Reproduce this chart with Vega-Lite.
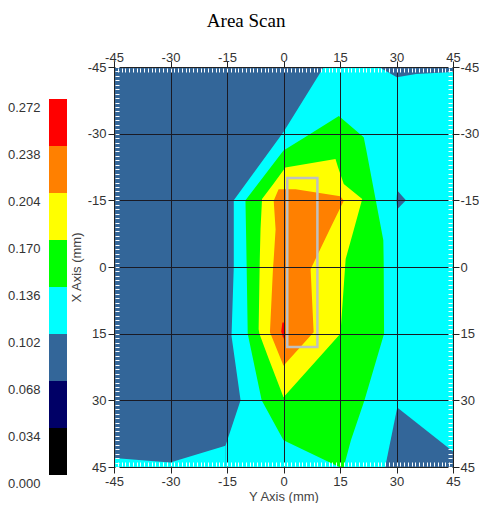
{
  "$schema": "https://vega.github.io/schema/vega-lite/v6.json",
  "padding": {"left": 7, "top": 12, "right": 0, "bottom": 0},
  "title": {"text": "Area Scan", "font": "Liberation Serif", "fontSize": 19, "fontWeight": "normal", "color": "#000000", "anchor": "middle", "offset": 20, "dx": 3},
  "bounds": "flush",
  "spacing": 47,
  "resolve": {"scale": {"color": "shared"}},
  "config": {
    "view": {"stroke": null},
    "font": "Liberation Sans",
    "axis": {"labelFont": "Liberation Sans", "labelFontSize": 13, "labelColor": "#333333", "titleFont": "Liberation Sans", "titleFontSize": 13, "titleFontWeight": "normal", "titleColor": "#444444", "labelFlush": false, "labelOverlap": false, "tickColor": "#222222", "domainColor": "#222222"}
  },
  "datasets": {
    "legend": [
      {"band": "0.000", "lo": 0.000, "hi": 0.034},
      {"band": "0.034", "lo": 0.034, "hi": 0.068},
      {"band": "0.068", "lo": 0.068, "hi": 0.102},
      {"band": "0.102", "lo": 0.102, "hi": 0.136},
      {"band": "0.136", "lo": 0.136, "hi": 0.170},
      {"band": "0.170", "lo": 0.170, "hi": 0.204},
      {"band": "0.204", "lo": 0.204, "hi": 0.238},
      {"band": "0.238", "lo": 0.238, "hi": 0.272}
    ],
    "hbands": [
      {"piece": "base", "band": "0.068", "v": -45, "left": -45, "right": 45},
      {"piece": "base", "band": "0.068", "v": 45, "left": -45, "right": 45},
      {"piece": "cyan", "band": "0.102", "v": -45, "left": 10.7, "right": 45},
      {"piece": "cyan", "band": "0.102", "v": -30.4, "left": 0, "right": 45},
      {"piece": "cyan", "band": "0.102", "v": -15, "left": -13.2, "right": 45},
      {"piece": "cyan", "band": "0.102", "v": 0, "left": -13.2, "right": 45},
      {"piece": "cyan", "band": "0.102", "v": 15.5, "left": -13.8, "right": 45},
      {"piece": "cyan", "band": "0.102", "v": 30, "left": -11.4, "right": 45},
      {"piece": "cyan", "band": "0.102", "v": 40.2, "left": -15.4, "right": 45},
      {"piece": "cyan", "band": "0.102", "v": 45, "left": -15.4, "right": 45},
      {"piece": "diamond", "band": "0.068", "v": -17.2, "left": 30.2, "right": 30.2},
      {"piece": "diamond", "band": "0.068", "v": -15, "left": 30, "right": 32.5},
      {"piece": "diamond", "band": "0.068", "v": -13, "left": 30.2, "right": 30.2},
      {"piece": "green", "band": "0.136", "v": -34, "left": 14.7, "right": 14.7},
      {"piece": "green", "band": "0.136", "v": -29.2, "left": 5.7, "right": 21.3},
      {"piece": "green", "band": "0.136", "v": -26.2, "left": 0, "right": 22},
      {"piece": "green", "band": "0.136", "v": -15, "left": -10.1, "right": 24.5},
      {"piece": "green", "band": "0.136", "v": -6, "left": -9.9, "right": 26.5},
      {"piece": "green", "band": "0.136", "v": -1, "left": -9.8, "right": 26.6},
      {"piece": "green", "band": "0.136", "v": 15, "left": -9.5, "right": 26.7},
      {"piece": "green", "band": "0.136", "v": 30, "left": -5.8, "right": 21.5},
      {"piece": "green", "band": "0.136", "v": 39, "left": 0, "right": 17.9},
      {"piece": "green", "band": "0.136", "v": 45, "left": 14.8, "right": 16},
      {"piece": "yellow", "band": "0.170", "v": -24.3, "left": 13.8, "right": 13.8},
      {"piece": "yellow", "band": "0.170", "v": -22.4, "left": 0.5, "right": 14.5},
      {"piece": "yellow", "band": "0.170", "v": -18.7, "left": -2.7, "right": 16},
      {"piece": "yellow", "band": "0.170", "v": -15.3, "left": -5.7, "right": 20.9},
      {"piece": "yellow", "band": "0.170", "v": -8.5, "left": -6.1, "right": 18.7},
      {"piece": "yellow", "band": "0.170", "v": -1.8, "left": -6.3, "right": 16.5},
      {"piece": "yellow", "band": "0.170", "v": 14, "left": -6.6, "right": 15.2},
      {"piece": "yellow", "band": "0.170", "v": 15, "left": -6.4, "right": 15.1},
      {"piece": "yellow", "band": "0.170", "v": 20.7, "left": -3.9, "right": 9.1},
      {"piece": "yellow", "band": "0.170", "v": 29.3, "left": 0, "right": 0},
      {"piece": "orange", "band": "0.204", "v": -17.5, "left": -1.3, "right": 3.2},
      {"piece": "orange", "band": "0.204", "v": -15.9, "left": -2.1, "right": 15.1},
      {"piece": "orange", "band": "0.204", "v": -14.9, "left": -2.6, "right": 16},
      {"piece": "orange", "band": "0.204", "v": -8.5, "left": -2.1, "right": 12.3},
      {"piece": "orange", "band": "0.204", "v": -1.8, "left": -2.6, "right": 8.5},
      {"piece": "orange", "band": "0.204", "v": 0.5, "left": -2.8, "right": 7.2},
      {"piece": "orange", "band": "0.204", "v": 14.7, "left": -3.6, "right": 8},
      {"piece": "orange", "band": "0.204", "v": 22.2, "left": 0, "right": 0},
      {"piece": "red", "band": "0.238", "v": 12.5, "left": -0.3, "right": 0.1},
      {"piece": "red", "band": "0.238", "v": 14.5, "left": -0.6, "right": 0.3},
      {"piece": "red", "band": "0.238", "v": 16.2, "left": 0, "right": 0}
    ],
    "vbands": [
      {"piece": "strip", "band": "0.102", "h": -45, "top": 43, "bottom": 45},
      {"piece": "strip", "band": "0.102", "h": -30.1, "top": 44, "bottom": 45},
      {"piece": "strip", "band": "0.102", "h": -15.4, "top": 40.2, "bottom": 45},
      {"piece": "wedge", "band": "0.068", "h": 25.3, "top": -45, "bottom": -45},
      {"piece": "wedge", "band": "0.068", "h": 30.1, "top": -45, "bottom": -42.7},
      {"piece": "wedge", "band": "0.068", "h": 35.2, "top": -45, "bottom": -43.4},
      {"piece": "wedge", "band": "0.068", "h": 45, "top": -45, "bottom": -43.9},
      {"piece": "triangle", "band": "0.068", "h": 27, "top": 45, "bottom": 45},
      {"piece": "triangle", "band": "0.068", "h": 30.2, "top": 31.6, "bottom": 45},
      {"piece": "triangle", "band": "0.068", "h": 45, "top": 41.5, "bottom": 45}
    ],
    "probe": [
      {"h1": 1, "h2": 9, "v1": -20, "v2": 18}
    ]
  },
  "hconcat": [
    {
      "width": 18,
      "height": 408,
      "data": {"name": "legend"},
      "mark": {"type": "rect"},
      "encoding": {
        "y": {"field": "lo", "type": "quantitative", "scale": {"domain": [0, 0.29515], "nice": false, "zero": true},
              "axis": {"values": [0, 0.034, 0.068, 0.102, 0.136, 0.170, 0.204, 0.238, 0.272], "format": ".3f", "title": null, "domain": false, "ticks": false, "grid": false, "labelPadding": 9, "labelOffset": 8}},
        "y2": {"field": "hi"},
        "color": {"field": "band", "type": "nominal", "legend": null,
                  "scale": {"domain": ["0.000", "0.034", "0.068", "0.102", "0.136", "0.170", "0.204", "0.238"], "range": ["#000000", "#000066", "#336699", "#00FFFF", "#00FF00", "#FFFF00", "#FF8000", "#FF0000"]}}
      }
    },
    {
      "width": 339,
      "height": 400,
      "resolve": {"axis": {"x": "independent", "y": "independent"}},
      "layer": [
        {
          "data": {"name": "hbands"},
          "transform": [{"filter": "datum.piece === 'base'"}],
          "mark": {"type": "area", "orient": "horizontal"},
          "encoding": {
            "y": {"field": "v", "type": "quantitative", "scale": {"domain": [-45, 45], "nice": false, "zero": false, "reverse": true},
                  "axis": {"orient": "left", "title": "X Axis (mm)", "values": [-45, -30, -15, 0, 15, 30, 45], "labelExpr": "'' + datum.value", "grid": true, "gridColor": "#1a1a24", "gridOpacity": 1, "tickSize": 6, "labelPadding": 2, "titlePadding": 4, "zindex": 1}},
            "x": {"field": "left", "type": "quantitative", "stack": null, "scale": {"domain": [-45, 45], "nice": false, "zero": false},
                  "axis": {"orient": "bottom", "title": "Y Axis (mm)", "values": [-45, -30, -15, 0, 15, 30, 45], "labelExpr": "'' + datum.value", "grid": true, "gridColor": "#1a1a24", "gridOpacity": 1, "tickSize": 6, "labelPadding": 2, "titlePadding": 2, "zindex": 1}},
            "x2": {"field": "right"},
            "color": {"field": "band", "type": "nominal", "legend": null}
          }
        },
        {
          "data": {"name": "hbands"},
          "transform": [{"filter": "datum.piece === 'cyan'"}],
          "mark": {"type": "area", "orient": "horizontal"},
          "encoding": {
            "y": {"field": "v", "type": "quantitative", "scale": {"domain": [-45, 45], "nice": false, "zero": false, "reverse": true},
                  "axis": {"orient": "left", "title": null, "tickCount": 90, "labels": false, "domain": false, "grid": false, "tickColor": "#ffffff", "tickSize": 4, "offset": -5, "zindex": 1}},
            "x": {"field": "left", "type": "quantitative", "stack": null, "scale": {"domain": [-45, 45], "nice": false, "zero": false},
                  "axis": {"orient": "bottom", "title": null, "tickCount": 90, "labels": false, "domain": false, "grid": false, "tickColor": "#ffffff", "tickSize": 4, "offset": -5, "zindex": 1}},
            "x2": {"field": "right"},
            "color": {"field": "band", "type": "nominal", "legend": null}
          }
        },
        {
          "data": {"name": "vbands"},
          "transform": [{"filter": "datum.piece === 'strip'"}],
          "mark": {"type": "area", "orient": "vertical"},
          "encoding": {
            "x": {"field": "h", "type": "quantitative", "axis": null},
            "y": {"field": "top", "type": "quantitative", "stack": null, "axis": null},
            "y2": {"field": "bottom"},
            "color": {"field": "band", "type": "nominal", "legend": null}
          }
        },
        {
          "data": {"name": "vbands"},
          "transform": [{"filter": "datum.piece === 'wedge' || datum.piece === 'triangle'"}],
          "mark": {"type": "area", "orient": "vertical"},
          "encoding": {
            "x": {"field": "h", "type": "quantitative", "axis": null},
            "y": {"field": "top", "type": "quantitative", "stack": null, "axis": null},
            "y2": {"field": "bottom"},
            "detail": {"field": "piece"},
            "color": {"field": "band", "type": "nominal", "legend": null}
          }
        },
        {
          "data": {"name": "hbands"},
          "transform": [{"filter": "datum.piece === 'diamond'"}],
          "mark": {"type": "area", "orient": "horizontal"},
          "encoding": {
            "y": {"field": "v", "type": "quantitative", "axis": null},
            "x": {"field": "left", "type": "quantitative", "stack": null, "axis": null},
            "x2": {"field": "right"},
            "color": {"field": "band", "type": "nominal", "legend": null}
          }
        },
        {
          "data": {"name": "hbands"},
          "transform": [{"filter": "datum.piece === 'green'"}],
          "mark": {"type": "area", "orient": "horizontal"},
          "encoding": {
            "y": {"field": "v", "type": "quantitative",
                  "axis": {"orient": "right", "title": null, "tickCount": 90, "labels": false, "domain": false, "grid": false, "tickColor": "#ffffff", "tickSize": 4, "offset": -5, "zindex": 1}},
            "x": {"field": "left", "type": "quantitative", "stack": null,
                  "axis": {"orient": "top", "title": null, "tickCount": 90, "labels": false, "domain": false, "grid": false, "tickColor": "#ffffff", "tickSize": 4, "offset": -5, "zindex": 1}},
            "x2": {"field": "right"},
            "color": {"field": "band", "type": "nominal", "legend": null}
          }
        },
        {
          "data": {"name": "hbands"},
          "transform": [{"filter": "datum.piece === 'yellow'"}],
          "mark": {"type": "area", "orient": "horizontal"},
          "encoding": {
            "y": {"field": "v", "type": "quantitative", "axis": null},
            "x": {"field": "left", "type": "quantitative", "stack": null, "axis": null},
            "x2": {"field": "right"},
            "color": {"field": "band", "type": "nominal", "legend": null}
          }
        },
        {
          "data": {"name": "hbands"},
          "transform": [{"filter": "datum.piece === 'orange'"}],
          "mark": {"type": "area", "orient": "horizontal"},
          "encoding": {
            "y": {"field": "v", "type": "quantitative", "axis": null},
            "x": {"field": "left", "type": "quantitative", "stack": null, "axis": null},
            "x2": {"field": "right"},
            "color": {"field": "band", "type": "nominal", "legend": null}
          }
        },
        {
          "data": {"name": "hbands"},
          "transform": [{"filter": "datum.piece === 'red'"}],
          "mark": {"type": "area", "orient": "horizontal"},
          "encoding": {
            "y": {"field": "v", "type": "quantitative", "axis": null},
            "x": {"field": "left", "type": "quantitative", "stack": null, "axis": null},
            "x2": {"field": "right"},
            "color": {"field": "band", "type": "nominal", "legend": null}
          }
        },
        {
          "data": {"name": "probe"},
          "mark": {"type": "rect", "filled": false, "stroke": "#C0C0C0", "strokeWidth": 2.5},
          "encoding": {
            "x": {"field": "h1", "type": "quantitative",
                  "axis": {"orient": "top", "title": null, "values": [-45, -30, -15, 0, 15, 30, 45], "labelExpr": "'' + datum.value", "grid": false, "tickSize": 6, "labelPadding": -3, "zindex": 1}},
            "x2": {"field": "h2"},
            "y": {"field": "v1", "type": "quantitative",
                  "axis": {"orient": "right", "title": null, "values": [-45, -30, -15, 0, 15, 30, 45], "labelExpr": "'' + datum.value", "grid": false, "tickSize": 6, "labelPadding": 1, "zindex": 1}},
            "y2": {"field": "v2"}
          }
        }
      ]
    }
  ]
}
